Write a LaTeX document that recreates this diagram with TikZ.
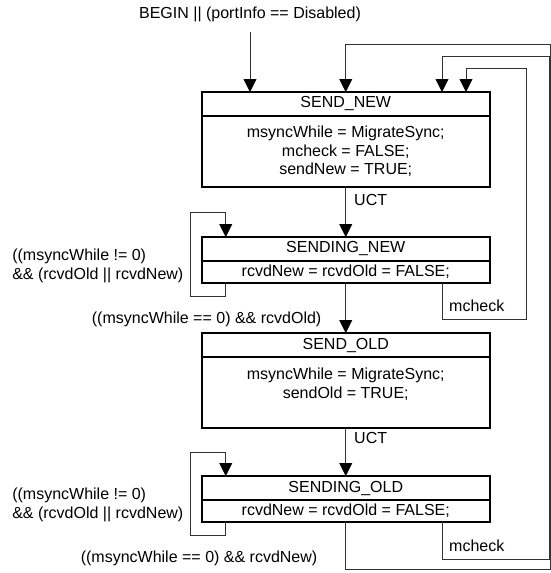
\documentclass[tikz,border=0pt]{standalone}
\usepackage{fontspec}
\setmainfont{Liberation Sans}
\usetikzlibrary{arrows.meta, positioning}

\begin{document}
\begin{tikzpicture}[
    every node/.style={font=\fontsize{16pt}{18.5pt}\selectfont},
    title/.style={rectangle, draw=black, fill=white, minimum width=288.5pt, minimum height=24pt, align=center, line width=2pt, outer sep=0pt, inner sep=2pt},
    body/.style={title, minimum height=22pt},
    tall/.style={minimum height=71pt},
    arrow/.style={-{Triangle[length=13pt, width=13pt, color=black]}, draw=black!80, line width=0.9pt},
    lbl/.style={inner sep=2pt, align=left}
]
\useasboundingbox (0,0) rectangle (551pt,-573pt);

% Start condition
\node[lbl] (begin) at (250pt,-14pt) {BEGIN || (portInfo == Disabled)};

% SEND_NEW
\node[title] (S1) at (345.75pt,-104pt) {SEND\_NEW};
\node[body, tall, below=0pt of S1] (B1) {msyncWhile = MigrateSync;\\ mcheck = FALSE;\\ sendNew = TRUE;};

% SENDING_NEW
\node[title, below=50pt of B1] (S2) {SENDING\_NEW};
\node[body, below=0pt of S2] (B2) {rcvdNew = rcvdOld = FALSE;};

% SEND_OLD
\node[title, below=50pt of B2] (S3) {SEND\_OLD};
\node[body, tall, below=0pt of S3] (B3) {msyncWhile = MigrateSync;\\ sendOld = TRUE;\\ \mbox{}};

% SENDING_OLD
\node[title, below=48pt of B3] (S4) {SENDING\_OLD};
\node[body, below=0pt of S4] (B4) {rcvdNew = rcvdOld = FALSE;};

\draw[arrow, shorten <=8pt] (begin.south) -- (begin.south |- S1.north);
\draw[arrow] (B1.south) -- node[lbl, right=6pt, pos=0.26] {UCT} (S2.north);

% SENDING_NEW transitions
\draw[arrow] ([xshift=-120pt]B2.south) -- ++(0,-13pt)
    -| node[lbl, left=5pt, pos=0.68] {((msyncWhile != 0)\\\&\& (rcvdOld || rcvdNew)} ([xshift=-155pt, yshift=25pt]S2.north)
    -| ([xshift=-120pt]S2.north);
\draw[arrow] (B2.south) -- node[lbl, left=22pt, pos=0.73] {((msyncWhile == 0) \&\& rcvdOld)} (S3.north);
\draw[arrow] ([xshift=97pt]B2.south) -- ++(0,-36pt) node[lbl, xshift=34pt, yshift=13pt] {mcheck}
    -| ([xshift=181pt, yshift=24pt]S1.north) -| ([xshift=120.25pt]S1.north);

\draw[arrow] (B3.south) -- node[lbl, right=6pt, pos=0.2] {UCT} (S4.north);

% SENDING_OLD transitions
\draw[arrow] ([xshift=-120pt]B4.south) -- ++(0,-13pt)
    -| node[lbl, left=5pt, pos=0.68] {((msyncWhile != 0)\\\&\& (rcvdOld || rcvdNew)} ([xshift=-155pt, yshift=24pt]S4.north)
    -| ([xshift=-120pt]S4.north);
\draw[arrow] (B4.south) -- node[lbl, left=26pt, pos=0.77] {((msyncWhile == 0) \&\& rcvdNew)} ++(0,-47pt)
    -| ([xshift=204.75pt, yshift=48pt]S1.north) -| (S1.north);
\draw[arrow] ([xshift=97pt]B4.south) -- ++(0,-37pt) node[lbl, xshift=34pt, yshift=13pt] {mcheck}
    -| ([xshift=203.25pt, yshift=36pt]S1.north) -| ([xshift=96.25pt]S1.north);

\end{tikzpicture}
\end{document}
